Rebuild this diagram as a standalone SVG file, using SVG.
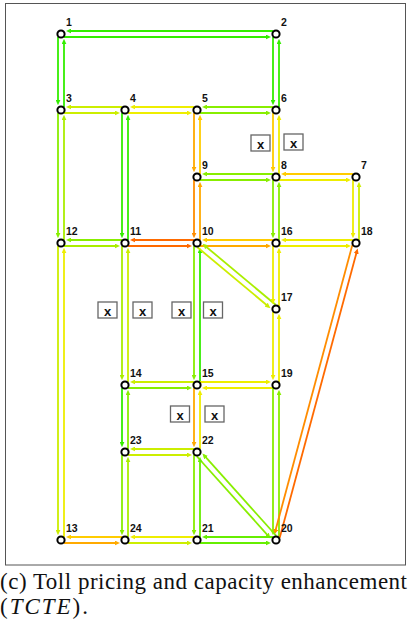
<svg xmlns="http://www.w3.org/2000/svg" width="409" height="623" viewBox="0 0 409 623">
<style>
line{stroke-width:1.8;fill:none}
.g1{stroke:#33ee00;marker-end:url(#m-g1)}
.g2{stroke:#66ee00;marker-end:url(#m-g2)}
.g3{stroke:#88ee00;marker-end:url(#m-g3)}
.g4{stroke:#aaee00;marker-end:url(#m-g4)}
.g5{stroke:#ccee00;marker-end:url(#m-g5)}
.y1{stroke:#eeee00;marker-end:url(#m-y1)}
.y2{stroke:#ffcc00;marker-end:url(#m-y2)}
.o1{stroke:#ffaa00;marker-end:url(#m-o1)}
.o2{stroke:#ff8c00;marker-end:url(#m-o2)}
.o3{stroke:#ff6a00;marker-end:url(#m-o3)}
.node circle{fill:#fff;stroke:#000;stroke-width:2}
.node text{font-family:"Liberation Sans",Arial,sans-serif;font-weight:bold;font-size:10.5px;fill:#111}
.box rect{fill:#fff;stroke:#666;stroke-width:1.3}
.box text{font-family:"Liberation Sans",Arial,sans-serif;font-weight:bold;font-size:13px;fill:#111;text-anchor:middle}
.cap{font-family:"Liberation Serif","Times New Roman",serif;font-size:23px;fill:#111}
</style>
<defs>
<marker id="m-g1" viewBox="0 0 5.5 5" refX="3.3" refY="2.5" markerWidth="5.5" markerHeight="5" markerUnits="userSpaceOnUse" orient="auto"><path d="M0,0L5.5,2.5L0,5z" fill="#33ee00"/></marker>
<marker id="m-g2" viewBox="0 0 5.5 5" refX="3.3" refY="2.5" markerWidth="5.5" markerHeight="5" markerUnits="userSpaceOnUse" orient="auto"><path d="M0,0L5.5,2.5L0,5z" fill="#66ee00"/></marker>
<marker id="m-g3" viewBox="0 0 5.5 5" refX="3.3" refY="2.5" markerWidth="5.5" markerHeight="5" markerUnits="userSpaceOnUse" orient="auto"><path d="M0,0L5.5,2.5L0,5z" fill="#88ee00"/></marker>
<marker id="m-g4" viewBox="0 0 5.5 5" refX="3.3" refY="2.5" markerWidth="5.5" markerHeight="5" markerUnits="userSpaceOnUse" orient="auto"><path d="M0,0L5.5,2.5L0,5z" fill="#aaee00"/></marker>
<marker id="m-g5" viewBox="0 0 5.5 5" refX="3.3" refY="2.5" markerWidth="5.5" markerHeight="5" markerUnits="userSpaceOnUse" orient="auto"><path d="M0,0L5.5,2.5L0,5z" fill="#ccee00"/></marker>
<marker id="m-y1" viewBox="0 0 5.5 5" refX="3.3" refY="2.5" markerWidth="5.5" markerHeight="5" markerUnits="userSpaceOnUse" orient="auto"><path d="M0,0L5.5,2.5L0,5z" fill="#eeee00"/></marker>
<marker id="m-y2" viewBox="0 0 5.5 5" refX="3.3" refY="2.5" markerWidth="5.5" markerHeight="5" markerUnits="userSpaceOnUse" orient="auto"><path d="M0,0L5.5,2.5L0,5z" fill="#ffcc00"/></marker>
<marker id="m-o1" viewBox="0 0 5.5 5" refX="3.3" refY="2.5" markerWidth="5.5" markerHeight="5" markerUnits="userSpaceOnUse" orient="auto"><path d="M0,0L5.5,2.5L0,5z" fill="#ffaa00"/></marker>
<marker id="m-o2" viewBox="0 0 5.5 5" refX="3.3" refY="2.5" markerWidth="5.5" markerHeight="5" markerUnits="userSpaceOnUse" orient="auto"><path d="M0,0L5.5,2.5L0,5z" fill="#ff8c00"/></marker>
<marker id="m-o3" viewBox="0 0 5.5 5" refX="3.3" refY="2.5" markerWidth="5.5" markerHeight="5" markerUnits="userSpaceOnUse" orient="auto"><path d="M0,0L5.5,2.5L0,5z" fill="#ff6a00"/></marker>
</defs>
<rect id="frame" x="5.5" y="3.5" width="400" height="561.5" fill="none" stroke="#555" stroke-width="1"/>
<g id="links">
<line class="g1" x1="64" y1="37" x2="269" y2="37"/>
<line class="g1" x1="273" y1="31" x2="68" y2="31"/>
<line class="g1" x1="58" y1="37" x2="58" y2="103"/>
<line class="g1" x1="64" y1="107" x2="64" y2="41"/>
<line class="g1" x1="273" y1="37" x2="273" y2="103"/>
<line class="g1" x1="279" y1="107" x2="279" y2="41"/>
<line class="g5" x1="64" y1="113" x2="118" y2="113"/>
<line class="g5" x1="122" y1="107" x2="68" y2="107"/>
<line class="y1" x1="128" y1="113" x2="190" y2="113"/>
<line class="y1" x1="194" y1="107" x2="132" y2="107"/>
<line class="g3" x1="200" y1="113" x2="269" y2="113"/>
<line class="g3" x1="273" y1="107" x2="204" y2="107"/>
<line class="g3" x1="58" y1="113" x2="58" y2="236"/>
<line class="g4" x1="64" y1="240" x2="64" y2="117"/>
<line class="g1" x1="122" y1="113" x2="122" y2="236"/>
<line class="g1" x1="128" y1="240" x2="128" y2="117"/>
<line class="o1" x1="194" y1="113" x2="194" y2="170"/>
<line class="y2" x1="200" y1="174" x2="200" y2="117"/>
<line class="y2" x1="273" y1="113" x2="273" y2="170"/>
<line class="y1" x1="279" y1="174" x2="279" y2="117"/>
<line class="g3" x1="200" y1="180" x2="269" y2="180"/>
<line class="g3" x1="273" y1="174" x2="204" y2="174"/>
<line class="y1" x1="279" y1="180" x2="349" y2="180"/>
<line class="y2" x1="353" y1="174" x2="283" y2="174"/>
<line class="o2" x1="194" y1="180" x2="194" y2="236"/>
<line class="o1" x1="200" y1="240" x2="200" y2="184"/>
<line class="g3" x1="273" y1="180" x2="273" y2="236"/>
<line class="g3" x1="279" y1="240" x2="279" y2="184"/>
<line class="y1" x1="353" y1="180" x2="353" y2="236"/>
<line class="g5" x1="359" y1="240" x2="359" y2="184"/>
<line class="g4" x1="64" y1="246" x2="118" y2="246"/>
<line class="g3" x1="122" y1="240" x2="68" y2="240"/>
<line class="o3" x1="128" y1="246" x2="190" y2="246"/>
<line class="o3" x1="194" y1="240" x2="132" y2="240"/>
<line class="o1" x1="200" y1="246" x2="269" y2="246"/>
<line class="y2" x1="273" y1="240" x2="204" y2="240"/>
<line class="y1" x1="279" y1="246" x2="349" y2="246"/>
<line class="y1" x1="353" y1="240" x2="283" y2="240"/>
<line class="g5" x1="58" y1="246" x2="58" y2="533"/>
<line class="y1" x1="64" y1="537" x2="64" y2="250"/>
<line class="g4" x1="122" y1="246" x2="122" y2="378"/>
<line class="g5" x1="128" y1="382" x2="128" y2="250"/>
<line class="g3" x1="194" y1="246" x2="194" y2="378"/>
<line class="g1" x1="200" y1="382" x2="200" y2="250"/>
<line class="g5" x1="197.38" y1="247.23" x2="268.71" y2="306.81"/>
<line class="g4" x1="275.62" y1="304.78" x2="204.3" y2="245.19"/>
<line class="y1" x1="273" y1="246" x2="273" y2="302"/>
<line class="y1" x1="279" y1="306" x2="279" y2="250"/>
<line class="y1" x1="273" y1="312" x2="273" y2="378"/>
<line class="y1" x1="279" y1="382" x2="279" y2="316"/>
<line class="g3" x1="128" y1="388" x2="190" y2="388"/>
<line class="g5" x1="194" y1="382" x2="132" y2="382"/>
<line class="y1" x1="200" y1="382" x2="269" y2="382"/>
<line class="y1" x1="273" y1="388" x2="204" y2="388"/>
<line class="g3" x1="273" y1="388" x2="273" y2="533"/>
<line class="g3" x1="279" y1="537" x2="279" y2="392"/>
<line class="o2" x1="352.32" y1="245.12" x2="274.92" y2="532.46"/>
<line class="o3" x1="279.68" y1="537.88" x2="357.08" y2="250.54"/>
<line class="g1" x1="122" y1="388" x2="122" y2="445"/>
<line class="g3" x1="128" y1="449" x2="128" y2="392"/>
<line class="o1" x1="194" y1="388" x2="194" y2="445"/>
<line class="y1" x1="200" y1="449" x2="200" y2="392"/>
<line class="g5" x1="128" y1="455" x2="190" y2="455"/>
<line class="g5" x1="194" y1="449" x2="132" y2="449"/>
<line class="g3" x1="196.77" y1="456.24" x2="269.09" y2="536.8"/>
<line class="g3" x1="276.23" y1="535.76" x2="203.91" y2="455.21"/>
<line class="g3" x1="122" y1="455" x2="122" y2="533"/>
<line class="g4" x1="128" y1="537" x2="128" y2="459"/>
<line class="g3" x1="194" y1="455" x2="194" y2="533"/>
<line class="g2" x1="200" y1="537" x2="200" y2="459"/>
<line class="o1" x1="64" y1="543" x2="118" y2="543"/>
<line class="y2" x1="122" y1="537" x2="68" y2="537"/>
<line class="g5" x1="128" y1="543" x2="190" y2="543"/>
<line class="y1" x1="194" y1="537" x2="132" y2="537"/>
<line class="g2" x1="200" y1="543" x2="269" y2="543"/>
<line class="g2" x1="273" y1="537" x2="204" y2="537"/>
</g>
<g id="n1" class="node"><circle cx="61" cy="34" r="3.6"/><text x="66" y="25.5">1</text></g>
<g id="n2" class="node"><circle cx="276" cy="34" r="3.6"/><text x="281" y="25.5">2</text></g>
<g id="n3" class="node"><circle cx="61" cy="110" r="3.6"/><text x="66" y="101.5">3</text></g>
<g id="n4" class="node"><circle cx="125" cy="110" r="3.6"/><text x="130" y="101.5">4</text></g>
<g id="n5" class="node"><circle cx="197" cy="110" r="3.6"/><text x="202" y="101.5">5</text></g>
<g id="n6" class="node"><circle cx="276" cy="110" r="3.6"/><text x="281" y="101.5">6</text></g>
<g id="n7" class="node"><circle cx="356" cy="177" r="3.6"/><text x="361" y="168.5">7</text></g>
<g id="n8" class="node"><circle cx="276" cy="177" r="3.6"/><text x="281" y="168.5">8</text></g>
<g id="n9" class="node"><circle cx="197" cy="177" r="3.6"/><text x="202" y="168.5">9</text></g>
<g id="n10" class="node"><circle cx="197" cy="243" r="3.6"/><text x="202" y="234.5">10</text></g>
<g id="n11" class="node"><circle cx="125" cy="243" r="3.6"/><text x="130" y="234.5">11</text></g>
<g id="n12" class="node"><circle cx="61" cy="243" r="3.6"/><text x="66" y="234.5">12</text></g>
<g id="n13" class="node"><circle cx="61" cy="540" r="3.6"/><text x="66" y="531.5">13</text></g>
<g id="n14" class="node"><circle cx="125" cy="385" r="3.6"/><text x="130" y="376.5">14</text></g>
<g id="n15" class="node"><circle cx="197" cy="385" r="3.6"/><text x="202" y="376.5">15</text></g>
<g id="n16" class="node"><circle cx="276" cy="243" r="3.6"/><text x="281" y="234.5">16</text></g>
<g id="n17" class="node"><circle cx="276" cy="309" r="3.6"/><text x="281" y="300.5">17</text></g>
<g id="n18" class="node"><circle cx="356" cy="243" r="3.6"/><text x="361" y="234.5">18</text></g>
<g id="n19" class="node"><circle cx="276" cy="385" r="3.6"/><text x="281" y="376.5">19</text></g>
<g id="n20" class="node"><circle cx="276" cy="540" r="3.6"/><text x="281" y="531.5">20</text></g>
<g id="n21" class="node"><circle cx="197" cy="540" r="3.6"/><text x="202" y="531.5">21</text></g>
<g id="n22" class="node"><circle cx="197" cy="452" r="3.6"/><text x="202" y="443.5">22</text></g>
<g id="n23" class="node"><circle cx="125" cy="452" r="3.6"/><text x="130" y="443.5">23</text></g>
<g id="n24" class="node"><circle cx="125" cy="540" r="3.6"/><text x="130" y="531.5">24</text></g>
<g id="b1" class="box"><rect x="251" y="135" width="19" height="16"/><text x="260.5" y="148.5">x</text></g>
<g id="b2" class="box"><rect x="284" y="134" width="19" height="16"/><text x="293.5" y="147.5">x</text></g>
<g id="b3" class="box"><rect x="98" y="302" width="19" height="16"/><text x="107.5" y="315.5">x</text></g>
<g id="b4" class="box"><rect x="133" y="302" width="19" height="16"/><text x="142.5" y="315.5">x</text></g>
<g id="b5" class="box"><rect x="172" y="302" width="19" height="16"/><text x="181.5" y="315.5">x</text></g>
<g id="b6" class="box"><rect x="203.5" y="302" width="19" height="16"/><text x="213" y="315.5">x</text></g>
<g id="b7" class="box"><rect x="170.5" y="406" width="19" height="16"/><text x="180" y="419.5">x</text></g>
<g id="b8" class="box"><rect x="205" y="406" width="19" height="16"/><text x="214.5" y="419.5">x</text></g>
<text class="cap" x="0" y="589" textLength="407" lengthAdjust="spacing">(c) Toll pricing and capacity enhancement</text>
<text class="cap" x="0" y="614" textLength="88" lengthAdjust="spacing">(<tspan font-style="italic">TCTE</tspan>).</text>
</svg>
